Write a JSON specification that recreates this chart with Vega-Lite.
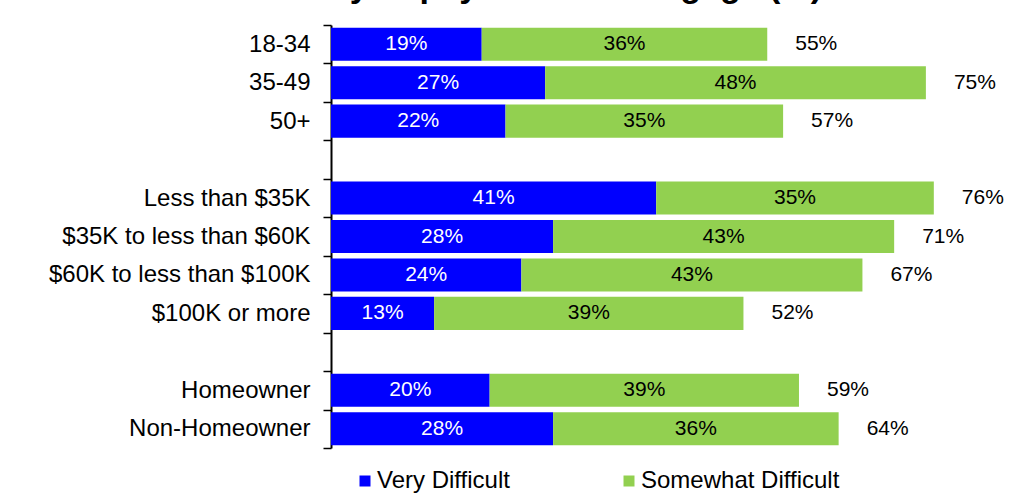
{
  "$schema": "https://vega.github.io/schema/vega-lite/v6.json",
  "autosize": {"type": "none"},
  "width": 698,
  "height": 423,
  "padding": {"left": 331, "top": 25, "right": 2, "bottom": 56},
  "background": "white",
  "title": {
    "text": "Ability to pay rent or mortgage (%)",
    "anchor": "end",
    "frame": "group",
    "fontSize": 34,
    "fontWeight": "bold",
    "font": "Liberation Sans",
    "color": "black",
    "baseline": "bottom",
    "offset": 0,
    "dx": -207,
    "dy": 25
  },
  "config": {
    "view": {"stroke": null},
    "font": "Liberation Sans"
  },
  "datasets": {
    "segments": [
      {"cat": "18-34", "type": "Very Difficult", "ord": 1, "value": 19, "label": "19%"},
      {"cat": "18-34", "type": "Somewhat Difficult", "ord": 2, "value": 36, "label": "36%"},
      {"cat": "35-49", "type": "Very Difficult", "ord": 1, "value": 27, "label": "27%"},
      {"cat": "35-49", "type": "Somewhat Difficult", "ord": 2, "value": 48, "label": "48%"},
      {"cat": "50+", "type": "Very Difficult", "ord": 1, "value": 22, "label": "22%"},
      {"cat": "50+", "type": "Somewhat Difficult", "ord": 2, "value": 35, "label": "35%"},
      {"cat": "Less than $35K", "type": "Very Difficult", "ord": 1, "value": 41, "label": "41%"},
      {"cat": "Less than $35K", "type": "Somewhat Difficult", "ord": 2, "value": 35, "label": "35%"},
      {"cat": "$35K to less than  $60K", "type": "Very Difficult", "ord": 1, "value": 28, "label": "28%"},
      {"cat": "$35K to less than  $60K", "type": "Somewhat Difficult", "ord": 2, "value": 43, "label": "43%"},
      {"cat": "$60K to less than  $100K", "type": "Very Difficult", "ord": 1, "value": 24, "label": "24%"},
      {"cat": "$60K to less than  $100K", "type": "Somewhat Difficult", "ord": 2, "value": 43, "label": "43%"},
      {"cat": "$100K or more", "type": "Very Difficult", "ord": 1, "value": 13, "label": "13%"},
      {"cat": "$100K or more", "type": "Somewhat Difficult", "ord": 2, "value": 39, "label": "39%"},
      {"cat": "Homeowner", "type": "Very Difficult", "ord": 1, "value": 20, "label": "20%"},
      {"cat": "Homeowner", "type": "Somewhat Difficult", "ord": 2, "value": 39, "label": "39%"},
      {"cat": "Non-Homeowner", "type": "Very Difficult", "ord": 1, "value": 28, "label": "28%"},
      {"cat": "Non-Homeowner", "type": "Somewhat Difficult", "ord": 2, "value": 36, "label": "36%"}
    ],
    "totals": [
      {"cat": "18-34", "total": 55, "label": "55%"},
      {"cat": "35-49", "total": 75, "label": "75%"},
      {"cat": "50+", "total": 57, "label": "57%"},
      {"cat": "Less than $35K", "total": 76, "label": "76%"},
      {"cat": "$35K to less than  $60K", "total": 71, "label": "71%"},
      {"cat": "$60K to less than  $100K", "total": 67, "label": "67%"},
      {"cat": "$100K or more", "total": 52, "label": "52%"},
      {"cat": "Homeowner", "total": 59, "label": "59%"},
      {"cat": "Non-Homeowner", "total": 64, "label": "64%"}
    ]
  },
  "layer": [
    {
      "data": {"name": "segments"},
      "mark": {"type": "bar", "height": {"band": 0.86}},
      "encoding": {
        "y": {
          "field": "cat", "type": "nominal",
          "scale": {
            "domain": ["18-34", "35-49", "50+", " ", "Less than $35K", "$35K to less than  $60K", "$60K to less than  $100K", "$100K or more", "  ", "Homeowner", "Non-Homeowner"],
            "paddingInner": 0, "paddingOuter": 0
          },
          "axis": {
            "title": null,
            "labelFontSize": 24,
            "labelFont": "Liberation Sans",
            "labelColor": "black",
            "labelPadding": 13,
            "tickSize": 8,
            "tickColor": "black",
            "tickWidth": 1.5,
            "domainColor": "black",
            "domainWidth": 2,
            "tickBand": "extent",
            "labelLimit": 400
          }
        },
        "x": {
          "field": "value", "type": "quantitative", "stack": "zero",
          "scale": {"domain": [0, 88], "nice": false},
          "axis": null
        },
        "color": {
          "field": "type", "type": "nominal",
          "scale": {"domain": ["Very Difficult", "Somewhat Difficult"], "range": ["#0000FF", "#92D050"]},
          "legend": {
            "title": null,
            "orient": "none",
            "legendX": 22,
            "legendY": 444,
            "direction": "horizontal",
            "columns": 2,
            "columnPadding": 107,
            "padding": 0,
            "symbolType": "square",
            "symbolSize": 121,
            "symbolStrokeWidth": 0,
            "labelFontSize": 24,
            "labelFont": "Liberation Sans",
            "labelColor": "black",
            "labelOffset": 0,
            "labelLimit": 400
          }
        },
        "order": {"field": "ord", "type": "quantitative"}
      }
    },
    {
      "data": {"name": "segments"},
      "mark": {
        "type": "text", "fontSize": 21, "font": "Liberation Sans", "align": "center", "baseline": "middle",
        "dx": {"expr": "-(scale('x', datum.value) - scale('x', 0)) / 2"}
      },
      "encoding": {
        "y": {"field": "cat", "type": "nominal"},
        "x": {"field": "value", "type": "quantitative", "stack": "zero"},
        "order": {"field": "ord", "type": "quantitative"},
        "text": {"field": "label", "type": "nominal"},
        "color": {
          "condition": {"test": "datum.type === 'Very Difficult'", "value": "white"},
          "value": "black"
        }
      }
    },
    {
      "data": {"name": "totals"},
      "mark": {"type": "text", "fontSize": 21, "font": "Liberation Sans", "align": "left", "baseline": "middle", "dx": 28, "color": "black"},
      "encoding": {
        "y": {"field": "cat", "type": "nominal"},
        "x": {"field": "total", "type": "quantitative"},
        "text": {"field": "label", "type": "nominal"}
      }
    }
  ]
}
